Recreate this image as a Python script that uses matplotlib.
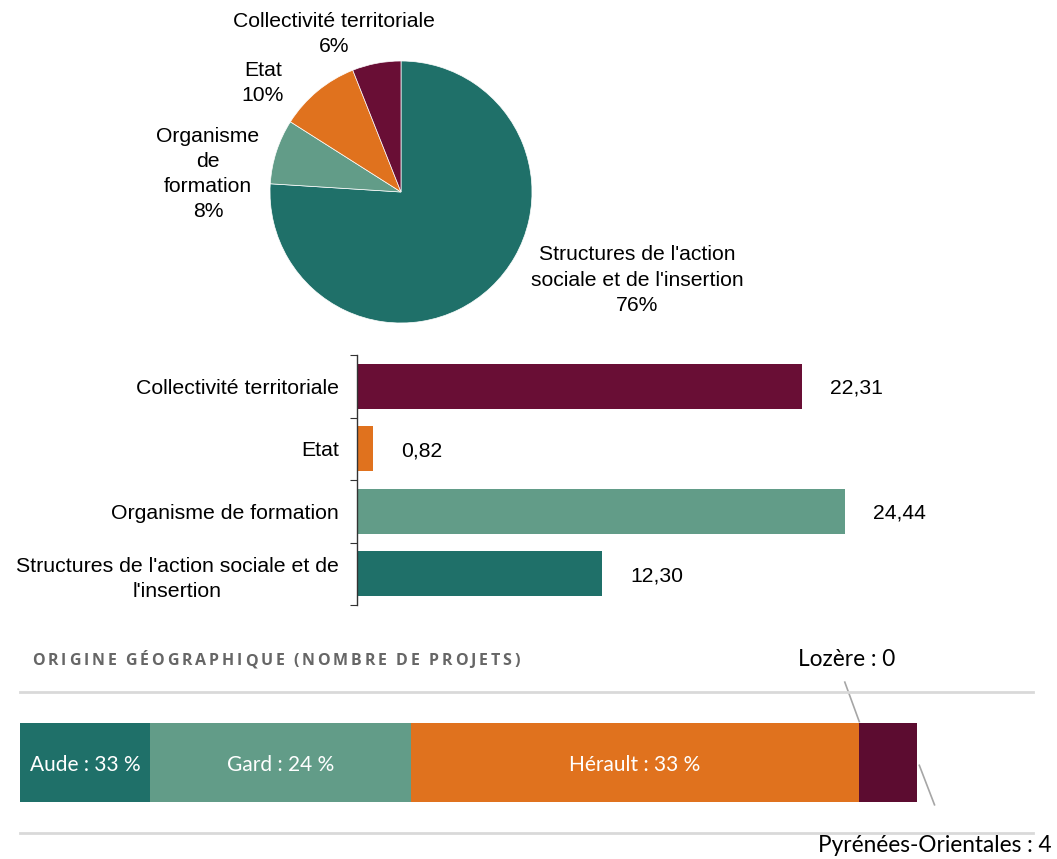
import matplotlib
matplotlib.use('Agg')
import matplotlib.pyplot as plt
import numpy as np

# Pie: repartition by structure type
pie_labels = ["Structures de l'action\nsociale et de l'insertion", 'Organisme\nde\nformation',
              'Etat', 'Collectivité territoriale']
pie_values = [76, 8, 10, 6]

# Horizontal bars
bar_labels = ['Collectivité territoriale', 'Etat', 'Organisme de formation',
              "Structures de l'action sociale et de\nl'insertion"]
bar_values = [22.31, 0.82, 24.44, 12.30]

# Stacked bar: origine geographique
geo_names = ['Aude', 'Gard', 'Hérault', 'Lozère', 'Pyrénées-Orientales']
geo_values = [9, 18, 31, 0, 4]
geo_labels = ['Aude : 33 %', 'Gard : 24 %', 'Hérault : 33 %', 'Lozère : 0', 'Pyrénées-Orientales : 4']
geo_title = 'ORIGINE GÉOGRAPHIQUE (NOMBRE DE PROJETS)'

TEAL = '#1F7069'
LTEAL = '#629C88'
ORANGE = '#E0721E'
MAROON = '#690E35'
MAROON2 = '#5C0C30'
LEADER = '#A6A6A6'

W, H = 1057, 859
fig = plt.figure(figsize=(W / 100, H / 100), dpi=100)
plt.rcParams['font.family'] = ['Liberation Sans', 'DejaVu Sans']


def box(x0, y_top, w, h):
    return [x0 / W, (H - y_top - h) / H, w / W, h / H]


# ---- Pie ----
ax1 = fig.add_axes(box(270, 61, 262, 262))
ax1.pie(pie_values, colors=[TEAL, LTEAL, ORANGE, MAROON], startangle=90, counterclock=False,
        wedgeprops=dict(edgecolor='white', linewidth=0.5))
ax1.set_xlim(-1, 1)
ax1.set_ylim(-1, 1)
ax1.set_aspect('equal')
ax1.axis('off')

pie_text_pos = [(637, 280), (208, 174), (263, 83), (334, 34)]
for lab, val, (px, py) in zip(pie_labels, pie_values, pie_text_pos):
    fig.text(px / W, 1 - py / H, f'{lab}\n{val}%', ha='center', va='center',
             fontsize=15.2, linespacing=1.42, multialignment='center')

# ---- Horizontal bars ----
ax2 = fig.add_axes(box(357, 355, 700, 250))
y = np.arange(len(bar_values))
ax2.barh(y, bar_values, height=0.72, color=[MAROON, ORANGE, LTEAL, TEAL])
ax2.set_xlim(0, 700 / 19.95)
ax2.set_ylim(len(bar_values) - 0.5, -0.5)
for s in ['top', 'right', 'bottom']:
    ax2.spines[s].set_visible(False)
ax2.spines['left'].set_color('#333333')
ax2.spines['left'].set_linewidth(1)
ax2.set_xticks([])
ax2.set_yticks(np.arange(-0.5, len(bar_values), 1.0))
ax2.set_yticklabels([])
ax2.tick_params(axis='y', which='major', length=5, direction='out', color='#333333')
ax2.set_yticks(y, minor=True)
ax2.set_yticklabels(bar_labels, minor=True, fontsize=15.3, multialignment='center', linespacing=1.42)
ax2.tick_params(axis='y', which='minor', length=0, pad=13)
for yi, v in zip(y, bar_values):
    ax2.text(v + 1.4, yi + 0.03, f'{v:.2f}'.replace('.', ','), ha='left', va='center', fontsize=15.2)

# ---- Origine geographique ----
# title with letter spacing: draw characters one after another
fig.canvas.draw()
renderer = fig.canvas.get_renderer()
xpos = 32
for ch in geo_title:
    t = fig.text(xpos / W, 1 - 661 / H, ch, family='Open Sans', fontweight='bold',
                 fontsize=11.5, color='#666666', ha='left', va='center')
    xpos += t.get_window_extent(renderer).width + 2.85 if ch != ' ' else 3.5 + 2.85

ax3 = fig.add_axes(box(20, 692, 1013, 141))
ax3.set_xlim(0, 1013 / 14.47)
ax3.set_ylim(0, 1)
left = 0
geo_colors = [TEAL, LTEAL, ORANGE, MAROON2, MAROON2]
for i, (name, v, lab, c) in enumerate(zip(geo_names, geo_values, geo_labels, geo_colors)):
    ax3.barh(0.5, v, left=left, height=0.56, color=c)
    if i < 3:
        ax3.text(left + v / 2, 0.48, lab, ha='center', va='center', color='white',
                 fontsize=15, family='Lato')
    left += v
cum = np.cumsum(geo_values)
# Lozere leader line and label
ax3.plot([cum[3] - 1.0, cum[3]], [1.07, 0.79], color=LEADER, lw=1.2, clip_on=False)
ax3.text(cum[3] - 0.9, 1.23, geo_labels[3], ha='center', va='center', fontsize=16.3,
         family='Lato', clip_on=False)
# Pyrenees-Orientales leader line and label
ax3.plot([cum[4] + 0.15, cum[4] + 1.2], [0.48, 0.2], color=LEADER, lw=1.2, clip_on=False)
ax3.text(1032 / 14.47, -0.09, geo_labels[4], ha='right', va='center', fontsize=16.3,
         family='Lato', clip_on=False)
for s in ['left', 'right']:
    ax3.spines[s].set_visible(False)
for s in ['top', 'bottom']:
    ax3.spines[s].set_color('#D9D9D9')
    ax3.spines[s].set_linewidth(2)
ax3.set_xticks([])
ax3.set_yticks([])

fig.savefig('out.png', dpi=100, facecolor='white')
